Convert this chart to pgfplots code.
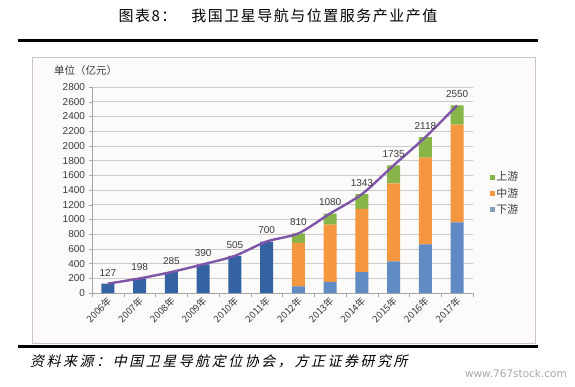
\documentclass[border=0pt]{standalone}
\usepackage{pgfplots}
\pgfplotsset{compat=1.18}
\usepackage{fontspec}
\setmainfont{Liberation Sans}
\newfontfamily\cjk{Noto Sans CJK SC}
\newfontfamily\cjktitle[LetterSpace=10]{Noto Sans CJK SC}
\newfontfamily\cjkit[FakeSlant=0.22,LetterSpace=18]{Noto Sans CJK SC}
\newfontfamily\wm{DejaVu Sans}
\definecolor{earlyblue}{HTML}{3562A2}
\definecolor{downblue}{HTML}{5F8AC4}
\definecolor{midorange}{HTML}{F5973F}
\definecolor{upgreen}{HTML}{88B548}
\definecolor{linepurple}{HTML}{7E55A8}
\definecolor{framegray}{HTML}{C9C5C0}
\definecolor{framefill}{HTML}{FCFBF9}
\definecolor{txtgray}{HTML}{3A3A3A}

\pgfplotstableread{
x early down mid up total
0 127 0 0 0 127
1 198 0 0 0 198
2 285 0 0 0 285
3 390 0 0 0 390
4 505 0 0 0 505
5 700 0 0 0 700
6 0 90 590 130 810
7 0 150 780 150 1080
8 0 285 860 198 1343
9 0 430 1060 245 1735
10 0 660 1180 278 2118
11 0 960 1330 260 2550
}\datatable

\begin{document}
\begin{tikzpicture}
\path[use as bounding box] (0pt,0pt) rectangle (575pt,386pt);
% frame
\draw[framegray, fill=framefill, line width=0.8pt] (32pt,329pt) rectangle (535pt,43pt);
% rules
\draw[line width=3pt] (18pt,345pt) -- (538pt,345pt);
\draw[line width=3pt] (18pt,40pt) -- (538pt,40pt);
% title
\node[font=\cjktitle\fontsize{15}{17}\selectfont] at (278pt,370pt) {图表8：\hspace{1.0em}我国卫星导航与位置服务产业产值};
% source
\node[anchor=west, font=\cjkit\fontsize{14}{16}\selectfont, inner sep=0pt] at (30pt,25pt) {资料来源：中国卫星导航定位协会，方正证券研究所};
% watermark
\node[anchor=east, font=\wm\fontsize{10.5}{12}\selectfont, text=gray!70, inner sep=0pt] at (567pt,12pt) {www.767stock.com};
% unit label
\node[anchor=west, font=\cjk\fontsize{10.5}{12}\selectfont, text=txtgray, inner sep=0pt] at (54pt,315pt) {单位（亿元）};

\begin{axis}[
  at={(92pt,93pt)}, anchor=south west,
  width=381pt, height=206pt, scale only axis,
  xmin=-0.5, xmax=11.5, ymin=0, ymax=2800,
  ybar stacked, bar width=13pt,
  axis lines=left,
  axis line style={-, gray!70},
  ytick={0,200,...,2800},
  ymajorgrids, grid style={gray!40, line width=0.6pt},
  yticklabel style={font=\fontsize{10}{11}\selectfont, text=txtgray},
  /pgf/number format/assume math mode=true,
  /pgf/number format/1000 sep={},
  tick align=outside,
  major tick length=3.5pt,
  tick style={gray!70},
  xtick={0,...,11},
  xticklabels={2006年,2007年,2008年,2009年,2010年,2011年,2012年,2013年,2014年,2015年,2016年,2017年},
  major x tick style={draw=none},
  minor xtick={-0.5,0.5,...,11.5},
  minor tick length=4pt,
  minor x tick style={gray!70},
  xticklabel style={rotate=45, anchor=east, font=\cjk\fontsize{9.5}{10}\selectfont, text=txtgray, yshift=-3pt, xshift=3pt},
]
\addplot[fill=earlyblue, draw=none] table[x=x, y=early] {\datatable};
\addplot[fill=downblue, draw=none] table[x=x, y=down] {\datatable};
\addplot[fill=midorange, draw=none] table[x=x, y=mid] {\datatable};
\addplot[fill=upgreen, draw=none] table[x=x, y=up] {\datatable};
\end{axis}

\begin{axis}[
  at={(92pt,93pt)}, anchor=south west,
  width=381pt, height=206pt, scale only axis,
  xmin=-0.5, xmax=11.5, ymin=0, ymax=2800,
  hide axis, clip=false,
  legend style={at={(1.045,0.60)}, anchor=north west, draw=none, fill=none,
    font=\cjk\fontsize{11}{12}\selectfont, text=txtgray, row sep=1.5pt, inner sep=0pt},
  legend cell align=left,
]
\addplot[linepurple, line width=2.4pt, smooth, tension=0.45, forget plot,
  nodes near coords, point meta=explicit symbolic,
  every node near coord/.append style={font=\fontsize{10}{12}\selectfont, text=txtgray, anchor=south, yshift=3pt}]
  table[x=x, y=total, meta=total] {\datatable};
\addlegendimage{legend image code/.code={\fill[upgreen] (0pt,-1.8pt) rectangle (3.6pt,1.8pt);}}
\addlegendentry{上游}
\addlegendimage{legend image code/.code={\fill[midorange] (0pt,-1.8pt) rectangle (3.6pt,1.8pt);}}
\addlegendentry{中游}
\addlegendimage{legend image code/.code={\fill[downblue!60!gray!80] (0pt,-1.8pt) rectangle (3.6pt,1.8pt);}}
\addlegendentry{下游}
\end{axis}
\end{tikzpicture}
\end{document}
